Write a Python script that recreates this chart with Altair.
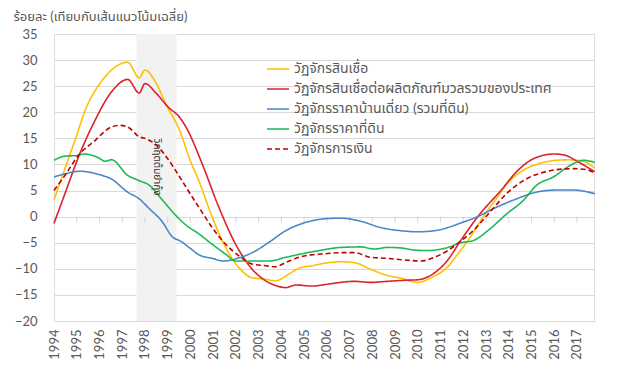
import altair as alt
import pandas as pd

FONT = "Lato, 'Noto Sans Thai', 'Noto Sans', sans-serif"
GREY = "#595959"

series_names = [
    "วัฏจักรสินเชื่อ",
    "วัฏจักรสินเชื่อต่อผลิตภัณฑ์มวลรวมของประเทศ",
    "วัฏจักรราคาบ้านเดี่ยว (รวมที่ดิน)",
    "วัฏจักรราคาที่ดิน",
    "วัฏจักรการเงิน",
]
series_colors = ["#FFC000", "#D9232A", "#4A86C8", "#1DB954", "#C00000"]

years = list(range(1994, 2018))
y_ticks = list(range(-20, 36, 5))

credit_x = [1994.0, 1994.48, 1994.92, 1995.43, 1996.02, 1996.53, 1997.24, 1997.75, 1998.0, 1998.5,
            1998.95, 1999.53, 1999.97, 2000.37, 2000.96, 2001.55, 2002.2, 2002.7, 2003.3, 2003.74,
            2004.33, 2004.77, 2005.36, 2005.95, 2006.61, 2007.2, 2007.93, 2008.67, 2009.26, 2009.99,
            2010.58, 2011.32, 2011.7, 2012.2, 2012.87, 2013.46, 2014.05, 2014.64, 2015.37, 2016.1,
            2016.7, 2017.28, 2017.78]
credit_v = [3.2, 9.2, 14.6, 21.0, 25.5, 28.1, 29.6, 26.6, 28.1, 25.5,
            21.3, 16.5, 11.0, 6.9, -0.1, -5.9, -10.1, -11.7, -12.0, -12.3,
            -11.0, -9.9, -9.4, -8.9, -8.65, -8.8, -10.1, -11.3, -11.8, -12.6,
            -11.7, -9.6, -7.5, -4.6, -0.1, 3.5, 6.9, 8.9, 10.2, 10.8,
            10.9, 10.6, 9.3]

gdp_x = [1994.0, 1994.48, 1995.14, 1995.73, 1996.53, 1997.24, 1997.75, 1998.0, 1998.5, 1999.02,
         1999.53, 1999.8, 2000.52, 2001.25, 2001.99, 2002.72, 2003.31, 2003.82, 2004.19, 2004.63,
         2005.36, 2005.95, 2006.61, 2007.2, 2007.93, 2008.67, 2009.4, 2009.99, 2010.59, 2011.32,
         2011.9, 2012.64, 2013.67, 2014.41, 2015.14, 2016.0, 2016.45, 2017.05, 2017.78]
gdp_v = [-1.3, 4.4, 12.1, 17.8, 23.9, 26.3, 23.7, 25.5, 23.6, 21.0,
         19.0, 17.2, 10.1, 1.8, -5.3, -10.1, -12.3, -13.3, -13.6, -13.1,
         -13.3, -13.0, -12.6, -12.4, -12.6, -12.4, -12.2, -12.1, -11.2, -8.3,
         -4.5, 0.0, 5.1, 8.9, 11.2, 12.0, 11.8, 10.5, 8.6]

house_x = [1994.0, 1994.48, 1995.14, 1995.95, 1996.53, 1997.24, 1997.75, 1998.2, 1998.73, 1999.24,
           1999.53, 1999.97, 2000.37, 2000.96, 2001.47, 2002.13, 2002.72, 2003.46, 2004.19, 2004.93,
           2005.95, 2006.61, 2007.5, 2008.37, 2009.26, 2009.99, 2010.73, 2011.32, 2011.9, 2012.58,
           2013.46, 2014.34, 2015.22, 2016.1, 2016.84, 2017.78]
house_v = [7.6, 8.2, 8.7, 8.1, 7.2, 4.7, 3.4, 1.5, -0.8, -4.0,
           -4.6, -6.0, -7.3, -8.0, -8.5, -7.9, -6.9, -4.9, -2.7, -1.3,
           -0.4, -0.3, -0.9, -2.1, -2.7, -2.9, -2.7, -2.1, -1.2, -0.1,
           1.8, 3.4, 4.7, 5.1, 5.1, 4.4]

land_x = [1994.0, 1994.48, 1995.0, 1995.29, 1995.95, 1996.24, 1996.53, 1997.24, 1997.75, 1998.2,
          1998.73, 1999.3, 1999.8, 2000.37, 2000.96, 2001.55, 2001.99, 2002.72, 2003.46, 2004.19,
          2004.93, 2005.66, 2006.61, 2007.5, 2008.08, 2008.67, 2009.26, 2009.85, 2010.44, 2011.32,
          2011.9, 2012.43, 2013.16, 2013.9, 2014.64, 2015.22, 2015.96, 2016.7, 2017.28, 2017.78]
land_v = [10.8, 11.6, 11.7, 12.0, 11.3, 10.6, 10.9, 7.9, 6.9, 6.0,
          3.4, 0.5, -1.6, -3.3, -5.3, -7.2, -8.5, -8.5, -8.5, -7.8,
          -7.1, -6.5, -5.9, -5.8, -6.2, -5.9, -6.0, -6.4, -6.5, -5.9,
          -5.0, -4.6, -2.4, 0.5, 3.1, 6.0, 7.6, 9.8, 10.8, 10.4]

fin_x = [1994.0, 1994.48, 1995.14, 1995.73, 1996.53, 1996.9, 1997.24, 1997.75, 1998.07, 1998.5,
         1998.95, 1999.53, 1999.9, 2000.37, 2000.96, 2001.55, 2002.13, 2002.72, 2003.31, 2003.74,
         2004.19, 2004.77, 2005.36, 2005.95, 2006.61, 2007.2, 2007.93, 2008.67, 2009.4, 2010.14,
         2010.73, 2011.32, 2011.8, 2012.43, 2013.16, 2013.9, 2014.64, 2015.37, 2016.1, 2016.84,
         2017.43, 2017.78]
fin_v = [5.0, 7.9, 12.1, 14.3, 17.2, 17.5, 17.2, 15.3, 14.9, 13.7,
         11.4, 7.6, 5.0, 1.8, -2.1, -5.3, -7.5, -9.1, -9.4, -9.6,
         -8.8, -7.8, -7.3, -7.1, -6.9, -6.9, -7.8, -8.0, -8.3, -8.5,
         -7.8, -6.5, -5.0, -2.7, 0.8, 4.4, 6.9, 8.3, 9.0, 9.2,
         9.0, 8.3]

crisis_start = [1997.63]
crisis_end = [1999.39]
crisis_label = ["วิกฤตต้มยำกุ้ง"]

rows = []
for name, xs, vs in zip(series_names,
                        [credit_x, gdp_x, house_x, land_x, fin_x],
                        [credit_v, gdp_v, house_v, land_v, fin_v]):
    for x, v in zip(xs, vs):
        rows.append({"series": name, "year": x, "value": v})
df = pd.DataFrame(rows)

x_scale = alt.Scale(domain=[1994, 2017.75], nice=False, zero=False)
y_scale = alt.Scale(domain=[-20, 35], nice=False)

x_axis = alt.Axis(values=years, format="d", labelAngle=270, title=None,
                  grid=False, ticks=False, domain=False, labelPadding=8,
                  labelOverlap=False, labelFontSize=13, labelColor=GREY, labelFont=FONT)
y_axis = alt.Axis(values=y_ticks, title="ร้อยละ (เทียบกับเส้นแนวโน้มเฉลี่ย)",
                  titleAngle=0, titleAlign="left", titleBaseline="middle",
                  titleX=-41, titleY=-18, titleFontSize=13, titleFontWeight="normal",
                  titleColor=GREY, titleFont=FONT,
                  grid=True, gridColor="#D9D9D9", ticks=False, domain=False,
                  labelOverlap=False, labelPadding=17, labelFontSize=13,
                  labelColor=GREY, labelFont=FONT)

legend_kw = dict(title=None, orient="none", legendX=212, legendY=23,
                 symbolType="stroke", symbolSize=484, symbolStrokeWidth=2,
                 labelFontSize=14, labelColor=GREY, labelFont=FONT,
                 rowPadding=1, labelOffset=4, padding=0, labelLimit=400)

shade_df = pd.DataFrame({"x1": crisis_start, "x2": crisis_end, "lo": [-20], "hi": [35]})
shade = alt.Chart(shade_df).mark_rect(color="#F2F2F2").encode(
    x=alt.X("x1:Q", scale=x_scale, axis=x_axis),
    x2="x2:Q",
    y=alt.Y("hi:Q", scale=y_scale, axis=y_axis),
    y2="lo:Q",
)

tick_df = pd.DataFrame({"year": years, "zero": [0] * len(years)})
ticks = alt.Chart(tick_df).mark_tick(orient="vertical", size=6, yOffset=3, color="#C8C8C8",
                                     thickness=1).encode(
    x=alt.X("year:Q", scale=x_scale, axis=x_axis),
    y=alt.Y("zero:Q", scale=y_scale, axis=y_axis),
)

label_df = pd.DataFrame({"x": [(crisis_start[0] + crisis_end[0]) / 2], "y": [9.5],
                         "label": crisis_label})
label = alt.Chart(label_df).mark_text(angle=90, fontSize=10, color="#333333", font=FONT,
                                      align="center", baseline="middle").encode(
    x=alt.X("x:Q", scale=x_scale, axis=x_axis),
    y=alt.Y("y:Q", scale=y_scale, axis=y_axis),
    text="label:N",
)

lines = alt.Chart(df).mark_line(interpolate="monotone").encode(
    x=alt.X("year:Q", scale=x_scale, axis=x_axis),
    y=alt.Y("value:Q", scale=y_scale, axis=y_axis),
    color=alt.Color("series:N", sort=series_names,
                    scale=alt.Scale(domain=series_names, range=series_colors),
                    legend=alt.Legend(**legend_kw)),
    strokeDash=alt.StrokeDash("series:N", sort=series_names,
                              scale=alt.Scale(domain=series_names,
                                              range=[[1, 0], [1, 0], [1, 0], [1, 0], [5, 3]]),
                              legend=alt.Legend(**legend_kw)),
    strokeWidth=alt.StrokeWidth("series:N", sort=series_names,
                                scale=alt.Scale(domain=series_names,
                                                range=[1.6, 1.6, 1.6, 1.6, 2.4]),
                                legend=None),
    order="year:Q",
)

chart = alt.layer(shade, ticks, lines, label).properties(
    width=540, height=287,
    padding={"left": 46, "top": 26, "right": 20, "bottom": 40},
    autosize=alt.AutoSizeParams(type="none"),
).configure_view(stroke=None).configure(background="white")

chart.save("out.html", embed_options={"renderer": "svg", "actions": False})
